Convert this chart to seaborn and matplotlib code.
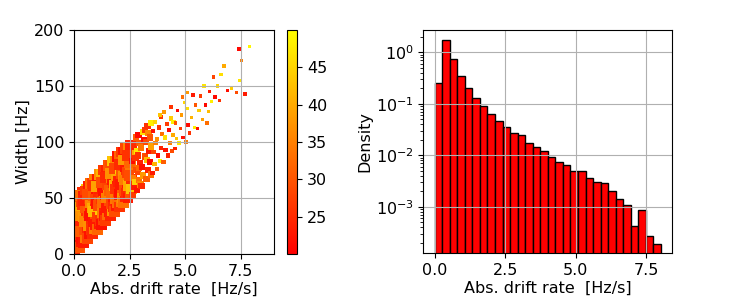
import numpy as np
import pandas as pd
import matplotlib
matplotlib.use("Agg")
import matplotlib.pyplot as plt
import seaborn as sns

# ------------------------------
# data
# ------------------------------
# dense part of the cloud (low drift rates)
core_drift = [
    0.04, 0.12, 0.07, 0.18, 0.03, 0.15, 0.09, 0.20, 0.05, 0.13, 0.02, 0.17, 0.08, 0.11,
    0.25, 0.33, 0.22, 0.38, 0.28, 0.36, 0.24, 0.31, 0.39, 0.27, 0.35, 0.21, 0.37, 0.30,
    0.43, 0.52, 0.47, 0.58, 0.41, 0.55, 0.49, 0.44, 0.57, 0.50, 0.59, 0.46, 0.53, 0.42,
    0.62, 0.71, 0.66, 0.78, 0.64, 0.74, 0.69, 0.77, 0.63, 0.72, 0.79, 0.67, 0.75, 0.61,
    0.83, 0.92, 0.86, 0.97, 0.81, 0.94, 0.88, 0.99, 0.84, 0.91, 0.98, 0.85, 0.95, 0.89,
    1.04, 1.13, 1.07, 1.18, 1.02, 1.15, 1.09, 1.19, 1.05, 1.12, 1.17, 1.08, 1.14, 1.01,
    1.23, 1.32, 1.27, 1.38, 1.21, 1.35, 1.29, 1.39, 1.24, 1.33, 1.37, 1.26, 1.31, 1.22,
    1.43, 1.52, 1.46, 1.58, 1.41, 1.55, 1.49, 1.59, 1.44, 1.53, 1.57, 1.47, 1.51, 1.42,
    1.63, 1.72, 1.66, 1.78, 1.61, 1.75, 1.69, 1.79, 1.64, 1.73, 1.77, 1.67, 1.71, 1.62,
    1.83, 1.92, 1.86, 1.98, 1.81, 1.95, 1.89, 1.99, 1.84, 1.93, 1.97, 1.87, 1.91, 1.82,
    2.03, 2.12, 2.06, 2.18, 2.01, 2.15, 2.09, 2.19, 2.04, 2.13, 2.17, 2.07, 2.11, 2.02,
    2.23, 2.32, 2.26, 2.38, 2.21, 2.35, 2.29, 2.39, 2.24, 2.33, 2.37, 2.27, 2.31, 2.22,
    2.43, 2.52, 2.46, 2.58, 2.41, 2.55, 2.49, 2.59, 2.44, 2.53, 2.57, 2.47, 2.51, 2.42,
]
core_width = [
    3, 9, 15, 21, 27, 33, 38, 44, 49, 6, 19, 29, 41, 52,
    6, 11, 17, 24, 30, 36, 42, 47, 55, 52, 14, 34, 44, 20,
    10, 15, 22, 27, 33, 38, 45, 51, 58, 56, 19, 29, 41, 48,
    14, 18, 25, 31, 37, 42, 49, 55, 60, 63, 22, 34, 46, 53,
    18, 23, 29, 35, 41, 46, 52, 58, 63, 67, 26, 38, 49, 61,
    22, 27, 33, 39, 45, 50, 56, 62, 67, 71, 30, 43, 58, 60,
    26, 31, 37, 43, 49, 54, 60, 66, 71, 75, 34, 46, 57, 64,
    30, 35, 41, 47, 53, 58, 64, 70, 75, 79, 38, 50, 62, 68,
    34, 39, 45, 51, 57, 62, 68, 74, 79, 83, 42, 54, 66, 72,
    38, 43, 49, 55, 61, 66, 72, 78, 83, 87, 46, 58, 70, 76,
    42, 47, 53, 59, 65, 70, 76, 82, 87, 91, 50, 62, 74, 80,
    46, 51, 57, 63, 69, 74, 80, 86, 91, 94, 54, 66, 78, 84,
    50, 55, 61, 67, 73, 78, 84, 90, 95, 97, 58, 70, 82, 88,
]
core_snr = [
    24, 31, 22, 38, 27, 41, 23, 33, 29, 26, 39, 23, 35, 28,
    30, 23, 27, 36, 24, 22, 40, 28, 25, 33, 22, 37, 26, 31,
    23, 34, 29, 22, 38, 26, 32, 23, 43, 27, 25, 36, 30, 24,
    28, 22, 37, 25, 31, 23, 27, 41, 23, 33, 26, 22, 36, 29,
    25, 35, 23, 29, 40, 24, 31, 22, 27, 35, 23, 42, 28, 26,
    32, 23, 27, 44, 22, 30, 25, 34, 23, 37, 26, 29, 24, 39,
    22, 28, 35, 24, 26, 38, 23, 31, 41, 27, 23, 33, 22, 29,
    27, 33, 23, 29, 22, 36, 26, 40, 24, 30, 23, 35, 28, 25,
    24, 38, 28, 23, 31, 26, 35, 22, 29, 43, 25, 32, 23, 37,
    29, 23, 34, 27, 41, 23, 30, 25, 36, 22, 33, 26, 39, 28,
    26, 35, 22, 31, 24, 28, 44, 23, 32, 27, 37, 23, 30, 25,
    33, 24, 29, 23, 37, 26, 31, 42, 22, 28, 25, 35, 23, 38,
    23, 30, 40, 25, 28, 34, 22, 27, 36, 24, 43, 29, 32, 26,
]

# sparse tail of the cloud (high drift rates)
tail_drift = [
    2.63, 2.71, 2.66, 2.78, 2.62, 2.75, 2.69, 2.80, 2.73, 2.77, 2.85, 2.92, 2.88, 2.97, 2.83, 2.95, 2.90, 2.99, 2.87, 2.94,
    3.04, 3.12, 3.07, 3.18, 3.02, 3.15, 3.09, 3.20, 3.26, 3.33, 3.29, 3.38, 3.24, 3.35, 3.31, 3.45, 3.42, 3.48, 3.41, 3.47,
    3.53, 3.62, 3.58, 3.67, 3.55, 3.64, 3.72, 3.79, 3.75, 3.83, 3.88, 3.93, 3.97, 3.91, 3.86,
    4.03, 4.12, 4.08, 4.17, 4.05, 4.22, 4.31, 4.27, 4.35, 4.41, 4.46, 4.38, 4.48,
    4.55, 4.62, 4.58, 4.67, 4.72, 4.79, 4.85, 4.91, 4.97, 4.88,
    5.04, 5.13, 5.08, 5.20, 5.28, 5.35, 5.42, 5.47, 5.12,
    5.56, 5.62, 5.70, 5.78, 5.85, 5.92, 5.98,
    6.04, 6.10, 6.18, 6.28, 6.35, 6.45,
    6.55, 6.62, 6.75, 6.90,
    7.10, 7.30, 7.42, 7.45, 7.55, 7.70, 7.90,
]
tail_width = [
    53, 60, 68, 75, 83, 90, 97, 104, 64, 86, 57, 66, 73, 81, 92, 99, 106, 62, 88, 77,
    61, 70, 78, 87, 95, 102, 109, 111, 67, 75, 84, 92, 100, 108, 114, 71, 82, 96, 104, 117,
    72, 80, 91, 99, 110, 118, 76, 88, 103, 113, 83, 95, 107, 122, 124,
    82, 93, 104, 116, 127, 88, 99, 111, 121, 92, 106, 131, 118,
    94, 103, 117, 128, 99, 112, 124, 104, 135, 140,
    100, 115, 130, 108, 122, 142, 113, 133, 144,
    112, 128, 141, 120, 150, 133, 117,
    127, 145, 136, 158, 140, 150,
    137, 160, 168, 146,
    148, 144, 183, 155, 173, 143, 185,
]
tail_snr = [
    27, 23, 35, 29, 21, 40, 25, 31, 44, 26, 22, 33, 28, 24, 47, 30, 21, 36, 26, 32,
    25, 38, 22, 29, 34, 21, 46, 27, 31, 24, 42, 23, 28, 36, 26, 33, 21, 39, 30, 48,
    23, 41, 28, 35, 22, 45, 30, 21, 37, 26, 49, 24, 33, 27, 43,
    31, 22, 46, 27, 38, 24, 35, 21, 44, 29, 40, 26, 48,
    24, 43, 30, 21, 47, 27, 38, 22, 45, 33,
    35, 21, 46, 26, 41, 23, 48, 30, 38,
    22, 44, 27, 39, 47, 21, 33,
    42, 23, 48, 28, 21, 45,
    26, 46, 40, 22,
    44, 29, 21, 47, 35, 23, 49,
]

# histogram of the absolute drift rate (30 bins, density)
hist_density = [
    0.25, 1.73, 0.73, 0.347, 0.203, 0.130, 0.0893, 0.0625, 0.047, 0.0355,
    0.0271, 0.0244, 0.0176, 0.0147, 0.0121, 0.00915, 0.00741, 0.0064, 0.00496, 0.00489,
    0.00363, 0.00307, 0.00286, 0.0020, 0.00142, 0.00107, 0.000418, 0.00088, 0.000271, 0.00019,
]
drift_max = 8.02

snr_min, snr_max = 20.05, 49.95

# ------------------------------
# figure
# ------------------------------
plt.rcParams['font.size'] = 11.5
fig = plt.figure(figsize=(7.47, 2.99), dpi=100)
ax1 = fig.add_axes([0.0991, 0.1505, 0.2677, 0.7492])
cax = fig.add_axes([0.3838, 0.1505, 0.0142, 0.7492])
ax2 = fig.add_axes([0.5667, 0.1528, 0.3333, 0.7468])

# scatter: width vs abs. drift rate coloured by snr
# (marker size shrinks as the cloud thins out)
groups = [
    (core_drift, core_width, core_snr, 60),
    (tail_drift[:40], tail_width[:40], tail_snr[:40], 20),
    (tail_drift[40:68], tail_width[40:68], tail_snr[40:68], 9),
    (tail_drift[68:], tail_width[68:], tail_snr[68:], 6),
]
for gx, gy, gc, size in groups:
    sns.scatterplot(x=gx, y=gy, hue=gc, palette='autumn',
                    hue_norm=(snr_min, snr_max), s=size, marker='s',
                    linewidth=0, legend=False, ax=ax1)
ax1.set_xlim(0, 9)
ax1.set_ylim(0, 200)
ax1.set_xticks([0, 2.5, 5.0, 7.5])
ax1.set_yticks([0, 50, 100, 150, 200])
ax1.set_xlabel('Abs. drift rate  [Hz/s]', labelpad=2)
ax1.set_ylabel('Width [Hz]', labelpad=2)
ax1.grid(True)

sm = plt.cm.ScalarMappable(norm=plt.Normalize(snr_min, snr_max), cmap='autumn')
fig.colorbar(sm, cax=cax)

# histogram of drift rate
edges = np.linspace(0, drift_max, len(hist_density) + 1)
hist_df = pd.DataFrame({
    'drift': 0.5 * (edges[:-1] + edges[1:]),
    'density': hist_density,
})
sns.histplot(data=hist_df, x='drift', weights='density', bins=list(edges),
             color='red', edgecolor='black', linewidth=1, alpha=1, ax=ax2)
ax2.set_yscale('log')
ax2.set_ylim(1.24e-4, 2.71)
ax2.set_xlim(-0.401, 8.421)
ax2.set_xticks([0, 2.5, 5.0, 7.5])
ax2.set_xlabel('Abs. drift rate  [Hz/s]', labelpad=2)
ax2.set_ylabel('Density', labelpad=2)
ax2.grid(True)

fig.savefig('out.png', dpi=100)
